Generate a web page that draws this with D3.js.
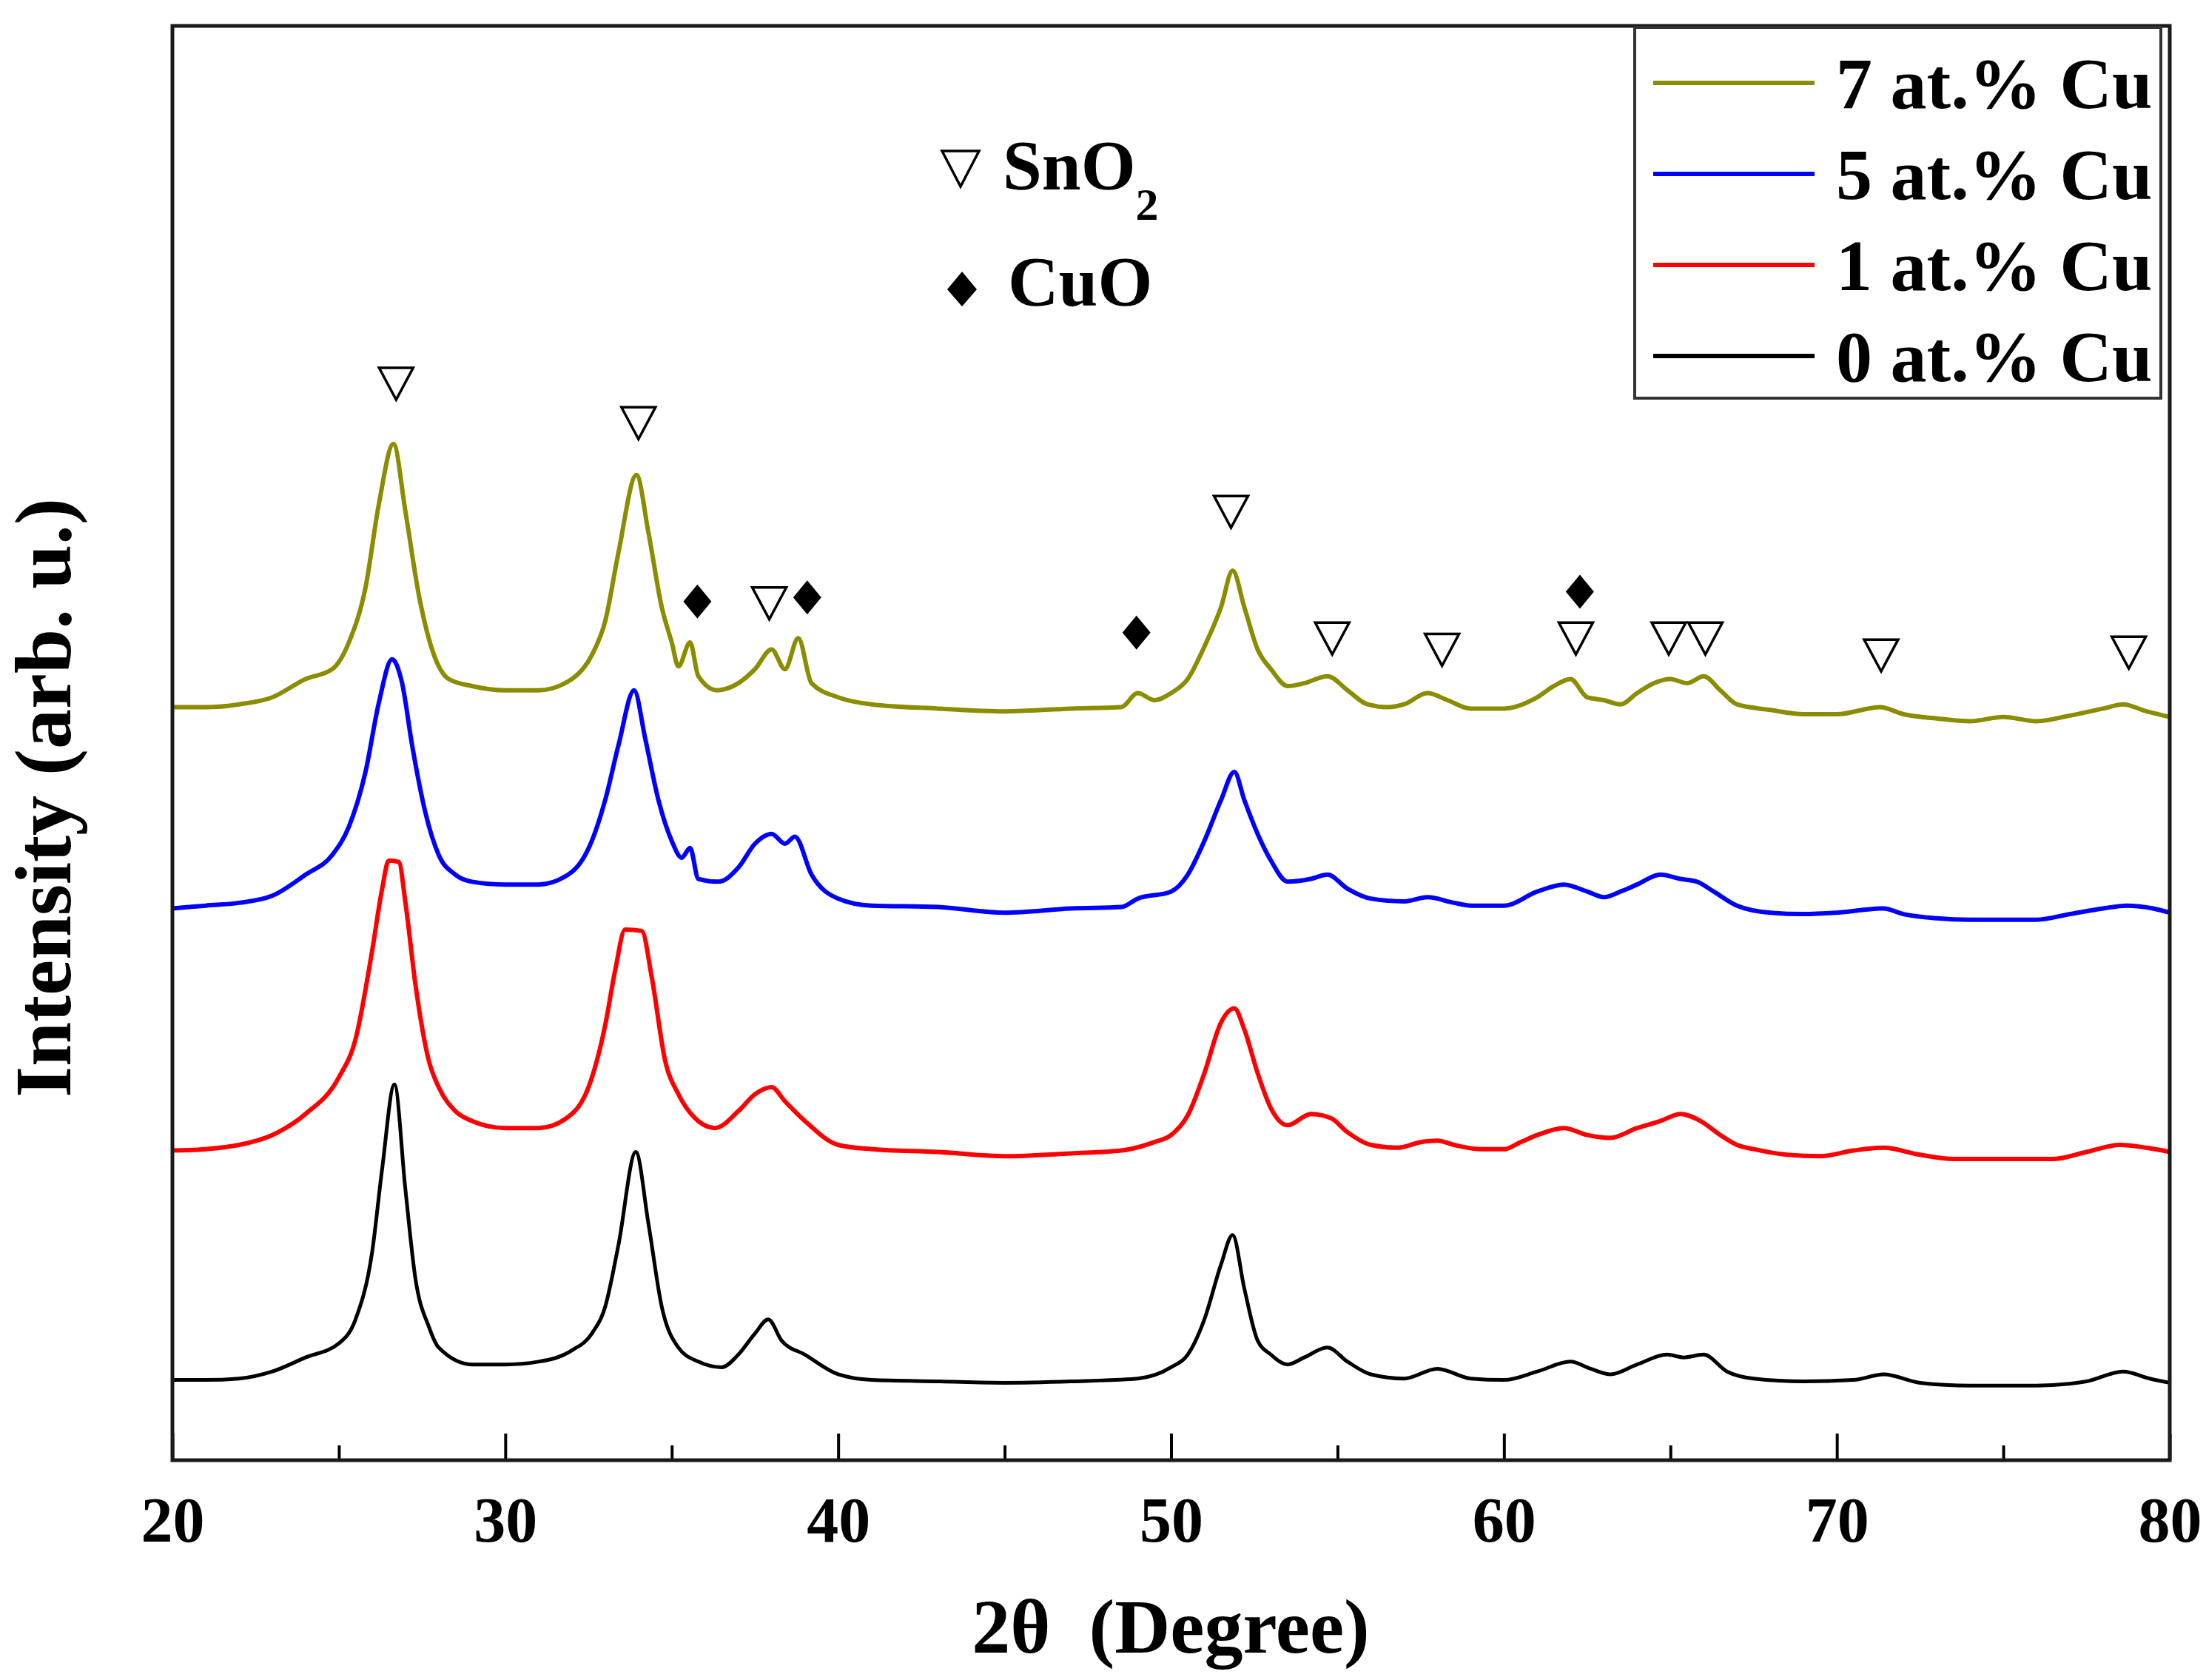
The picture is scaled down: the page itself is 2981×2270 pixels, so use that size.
<!DOCTYPE html>
<html>
<head>
<meta charset="utf-8">
<script src="https://cdn.jsdelivr.net/npm/d3@7"></script>
<style>
  body { margin: 0; background: #fff; }
  text { font-family: "Liberation Serif", "Times New Roman", serif; font-weight: bold; }
</style>
</head>
<body>
<script>

// 2theta (deg), intensity (arb. u., already offset per sample)
var cu0 = [[20,57],[21,57],[22,58],[23,63],[24,73],[25,83],[25.5,100],[26,148],[26.3,207],[26.67,267],[27,192],[27.3,129],[27.7,95],[28,80],[29,68],[30,68],[31,70],[32,78],[32.6,90],[33,109],[33.4,153],[33.92,219],[34.3,168],[34.7,109],[35.2,80],[35.8,70],[36.5,66],[37,75],[37.5,90],[37.9,100],[38.3,85],[39,75],[40,61],[41,57],[43,56],[45,55],[47,56],[49,58],[50,66],[50.5,75],[51,100],[51.5,139],[51.85,160],[52.2,122],[52.6,85],[53,75],[53.5,68],[54,73],[54.7,80],[55.3,70],[56,61],[57,58],[58,65],[59,58],[60,57],[61,63],[62,70],[62.6,65],[63.2,61],[64,68],[64.9,75],[65.4,73],[66,75],[66.7,63],[67.5,58],[69,56],[70.5,57],[71.4,61],[72.5,55],[74,53],[76,53],[77.5,56],[78.6,63],[79.4,58],[80,55]];

var cu1 = [[20,220],[21,221],[22,224],[23,231],[24,246],[25,272],[25.5,299],[26,362],[26.3,406],[26.5,426],[26.8,425],[27,396],[27.3,338],[27.7,284],[28,265],[28.5,248],[29,241],[30,236],[31,236],[32,246],[32.5,265],[33,309],[33.3,348],[33.6,377],[34.1,376],[34.4,343],[34.8,284],[35.2,260],[35.7,243],[36.3,236],[37,248],[37.5,260],[38,265],[38.4,255],[39,241],[40,224],[41,221],[43,219],[45,216],[47,218],[48.5,220],[49.5,226],[50,231],[50.5,245],[51,275],[51.5,311],[51.9,321],[52.2,306],[52.6,275],[53,250],[53.5,238],[54.2,246],[54.8,243],[55.3,233],[56,224],[56.8,222],[57.5,226],[58,227],[58.5,224],[59.3,221],[60,221],[60.5,226],[61,231],[61.8,236],[62.5,231],[63.2,229],[64,236],[64.7,241],[65.3,246],[65.9,241],[66.5,231],[67,224],[67.5,221],[68.5,217],[69.5,216],[70.5,220],[71.4,222],[72.5,217],[73.5,214],[75,214],[76.5,214],[77.5,219],[78.5,224],[79.3,222],[80,219]];

var cu5 = [[20,392],[21,394],[22,396],[23,401],[24,416],[24.8,430],[25.3,450],[25.8,489],[26.2,538],[26.6,569],[26.9,552],[27.2,508],[27.6,460],[28,430],[28.5,416],[29,411],[30,409],[31,409],[32,418],[32.6,440],[33,469],[33.4,508],[33.87,547],[34.2,513],[34.6,469],[35,440],[35.3,428],[35.55,435],[35.8,413],[36.4,411],[37,421],[37.5,438],[38,445],[38.4,438],[38.7,443],[39.2,416],[40,399],[41,394],[43,393],[45,389],[47,392],[48.5,393],[49,399],[50,404],[50.5,416],[51,440],[51.5,469],[51.9,489],[52.2,469],[52.6,445],[53,426],[53.5,411],[54.2,413],[54.7,416],[55.3,406],[56,399],[57,397],[57.7,400],[58.5,396],[59,394],[60,394],[61,404],[61.8,409],[62.5,404],[63,400],[63.5,404],[64,409],[64.7,416],[65.3,413],[65.8,411],[66.3,404],[67,394],[68,389],[69,388],[70,389],[71.4,392],[72,388],[73,385],[74,384],[76,384],[77,388],[78,392],[78.7,394],[79.5,392],[80,389]];

var cu7 = [[20,535],[21,535],[22,537],[23,542],[24,555],[24.8,562],[25.3,581],[25.8,620],[26.2,679],[26.64,722],[27,674],[27.4,615],[27.8,576],[28.3,555],[29,550],[30,547],[31,547],[32,555],[32.6,572],[33,596],[33.4,645],[33.94,700],[34.3,659],[34.7,606],[35,581],[35.2,564],[35.55,581],[35.8,557],[36.36,547],[37,552],[37.5,562],[38,576],[38.4,562],[38.8,584],[39.2,552],[40,542],[41,537],[43,534],[45,532],[47,534],[48.5,535],[49,545],[49.5,540],[50,545],[50.5,555],[51,578],[51.5,606],[51.85,632],[52.2,606],[52.6,576],[53,562],[53.5,550],[54,552],[54.7,557],[55.3,547],[55.9,537],[56.5,535],[57,537],[57.7,545],[58.3,540],[59,534],[60,534],[61,542],[61.5,550],[62,555],[62.5,542],[63,540],[63.5,537],[64,545],[64.5,552],[65,555],[65.5,552],[66,557],[66.5,547],[67,537],[68,533],[69,530],[70,530],[71.3,535],[72,530],[73,527],[74,525],[75,528],[76,525],[77,529],[78,534],[78.6,537],[79.3,532],[80,528]];

var seriesNames = ["7 at.% Cu", "5 at.% Cu", "1 at.% Cu", "0 at.% Cu"];
var seriesColors = ["#8c8c00", "#0000ff", "#ff0000", "#000000"];
var seriesData = [cu7, cu5, cu1, cu0];

// peak markers: [2theta, intensity]
var sno2Marks = [[26.72,765],[34.0,737],[37.93,609],[51.8,674],[54.84,584],[58.14,576],[62.16,584],[64.95,584],[66.05,584],[71.33,572],[78.77,574]];
var cuoMarks = [[35.77,610],[39.07,613],[48.96,588],[62.28,617]];

var majorTicks = [20, 30, 40, 50, 60, 70, 80];
var minorTicks = [25, 35, 45, 55, 65, 75];

var width = 2981;
var height = 2270;
var plotLeft = 233, plotRight = 2932, plotTop = 35, plotBottom = 1973;

var svg = d3.select("body").append("svg")
    .attr("width", width)
    .attr("height", height);

var x = d3.scaleLinear().domain([20, 80]).range([plotLeft, plotRight]);
var y = d3.scaleLinear().domain([0, 1019]).range([plotBottom, plotTop]);

var line = d3.line()
    .x(function (d) { return x(d[0]); })
    .y(function (d) { return y(d[1]); })
    .curve(d3.curveMonotoneX);

// curves, black drawn last
for (var i = seriesData.length - 1; i >= 0; i--) {
    svg.append("path")
        .datum(seriesData[i])
        .attr("d", line)
        .attr("fill", "none")
        .attr("stroke", seriesColors[i])
        .attr("stroke-width", i == 3 ? 5 : 6)
        .attr("stroke-linejoin", "round");
}

// axis ticks (inward)
var xAxis = svg.append("g")
    .attr("transform", "translate(0," + plotBottom + ")")
    .call(d3.axisBottom(x).tickValues(majorTicks).tickSizeInner(-36).tickSizeOuter(0).tickFormat(d3.format("d")));
xAxis.select(".domain").remove();
xAxis.selectAll(".tick line").attr("stroke", "#000").attr("stroke-width", 4);
xAxis.selectAll(".tick text")
    .attr("y", 110)
    .attr("dy", 0)
    .attr("font-size", 86)
    .attr("fill", "#000");

var xMinor = svg.append("g")
    .attr("transform", "translate(0," + plotBottom + ")")
    .call(d3.axisBottom(x).tickValues(minorTicks).tickSizeInner(-20).tickSizeOuter(0).tickFormat(""));
xMinor.select(".domain").remove();
xMinor.selectAll(".tick line").attr("stroke", "#000").attr("stroke-width", 4);

// frame
svg.append("rect")
    .attr("x", plotLeft).attr("y", plotTop)
    .attr("width", plotRight - plotLeft).attr("height", plotBottom - plotTop)
    .attr("fill", "none")
    .attr("stroke", "#1a1a1a")
    .attr("stroke-width", 5);

// SnO2 markers (open down triangles)
svg.selectAll(".tri")
    .data(sno2Marks)
    .enter().append("path")
    .attr("class", "tri")
    .attr("d", function (d) {
        var cx = x(d[0]), cy = y(d[1]);
        return "M" + (cx - 23) + "," + (cy - 21) + "L" + (cx + 23) + "," + (cy - 21) + "L" + cx + "," + (cy + 22) + "Z";
    })
    .attr("fill", "#fff")
    .attr("stroke", "#000")
    .attr("stroke-width", 3.5);

// CuO markers (filled diamonds)
svg.selectAll(".dia")
    .data(cuoMarks)
    .enter().append("path")
    .attr("class", "dia")
    .attr("d", function (d) {
        var cx = x(d[0]), cy = y(d[1]);
        return "M" + cx + "," + (cy - 23) + "L" + (cx + 19) + "," + cy + "L" + cx + "," + (cy + 23) + "L" + (cx - 19) + "," + cy + "Z";
    })
    .attr("fill", "#000");

// phase key
svg.append("path")
    .attr("d", "M1273,204L1323,204L1298,252Z")
    .attr("fill", "#fff").attr("stroke", "#000").attr("stroke-width", 3.5);
var sn = svg.append("text").attr("x", 1355).attr("y", 256).attr("font-size", 95);
sn.append("tspan").text("SnO");
sn.append("tspan").attr("dy", 41).attr("font-size", 62).text("2");

svg.append("path")
    .attr("d", "M1300,367L1320,391L1300,414L1280,391Z")
    .attr("fill", "#000");
svg.append("text").attr("x", 1362).attr("y", 413).attr("font-size", 95).text("CuO");

// legend
var legend = svg.append("g");
legend.append("rect")
    .attr("x", 2209).attr("y", 37)
    .attr("width", 711).attr("height", 501)
    .attr("fill", "#fff")
    .attr("stroke", "#333")
    .attr("stroke-width", 4);

var rowY = [112, 235, 358, 481];
for (var k = 0; k < seriesNames.length; k++) {
    legend.append("line")
        .attr("x1", 2234).attr("x2", 2452)
        .attr("y1", rowY[k]).attr("y2", rowY[k])
        .attr("stroke", seriesColors[k])
        .attr("stroke-width", 6);
    legend.append("text")
        .attr("x", 2481).attr("y", rowY[k] + 34)
        .attr("font-size", 98)
        .text(seriesNames[k]);
}

// axis titles
svg.append("text")
    .attr("x", 1582).attr("y", 2233)
    .attr("text-anchor", "middle")
    .attr("font-size", 104)
    .attr("xml:space", "preserve")
    .text("2\u03b8  (Degree)");

svg.append("text")
    .attr("transform", "translate(95,1078) rotate(-90)")
    .attr("text-anchor", "middle")
    .attr("font-size", 108)
    .text("Intensity (arb. u.)");

</script>
</body>
</html>
